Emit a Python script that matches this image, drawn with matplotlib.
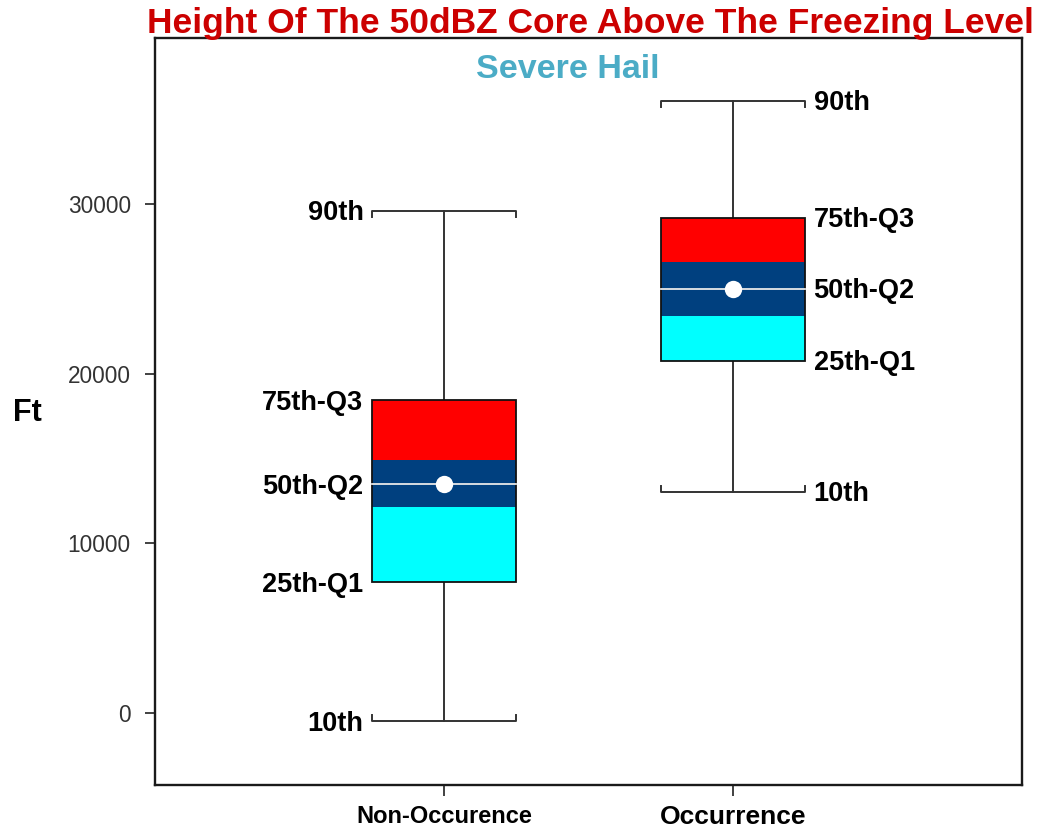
import matplotlib
matplotlib.use("Agg")
import matplotlib.pyplot as plt
from matplotlib import font_manager
import numpy as np

plt.rcParams['font.family'] = ['Liberation Sans', 'DejaVu Sans']

categories = ['Non-Occurence', 'Occurrence']
p10 = [-500, 13050]
q1 = [7700, 20750]
ci_low = [12150, 23420]
median = [13500, 25000]
ci_high = [14920, 26600]
q3 = [18450, 29200]
p90 = [29600, 36100]
label_side = ['left', 'right']
yticks = [0, 10000, 20000, 30000]

names = {f.name for f in font_manager.fontManager.ttflist}
narrow = 'Liberation Sans Narrow' if 'Liberation Sans Narrow' in names else None

fig = plt.figure(figsize=(10.42, 8.33), dpi=100)
ax = fig.add_axes([0.1488, 0.0576, 0.8320, 0.8968])

x = np.arange(1, len(categories) + 1)
w = 0.5
hook = 350

for i, xc in enumerate(x):
    ax.bar(xc, ci_low[i] - q1[i], bottom=q1[i], width=w, color='#00FFFF', linewidth=0, zorder=2)
    ax.bar(xc, ci_high[i] - ci_low[i], bottom=ci_low[i], width=w, color='#00407F', linewidth=0, zorder=2)
    ax.bar(xc, q3[i] - ci_high[i], bottom=ci_high[i], width=w, color='#FF0000', linewidth=0, zorder=2)
    ax.bar(xc, q3[i] - q1[i], bottom=q1[i], width=w, fill=False, edgecolor='#111111', linewidth=1.3, zorder=3)
    # whiskers
    ax.plot([xc, xc], [q3[i], p90[i]], color='#333333', lw=1.4, zorder=1)
    ax.plot([xc, xc], [q1[i], p10[i]], color='#333333', lw=1.4, zorder=1)
    # caps with hooks
    ax.plot([xc - w / 2, xc - w / 2, xc + w / 2, xc + w / 2],
            [p90[i] - hook, p90[i], p90[i], p90[i] - hook], color='#333333', lw=1.4, zorder=1)
    ax.plot([xc - w / 2, xc - w / 2, xc + w / 2, xc + w / 2],
            [p10[i] + hook, p10[i], p10[i], p10[i] + hook], color='#333333', lw=1.4, zorder=1)
    # median
    ax.plot([xc - w / 2, xc + w / 2], [median[i], median[i]], color='#E8E8E8', lw=1.3, zorder=4)
    ax.plot(xc, median[i], 'o', color='white', markersize=12.5, markeredgewidth=0, zorder=5)

    labels = [('90th', p90[i]), ('75th-Q3', q3[i]), ('50th-Q2', median[i]),
              ('25th-Q1', q1[i]), ('10th', p10[i])]
    for txt, val in labels:
        if label_side[i] == 'left':
            ax.annotate(txt, (xc - w / 2, val), xytext=(-6, -1.8), textcoords='offset points',
                        ha='right', va='center', fontsize=19.5, fontweight='bold', color='black')
        else:
            ax.annotate(txt, (xc + w / 2, val), xytext=(6, -1.5), textcoords='offset points',
                        ha='left', va='center', fontsize=19.5, fontweight='bold', color='black')

ax.set_xlim(0, 3)
ax.set_ylim(-4250, 39800)
ax.set_yticks(yticks)
ax.set_yticklabels([str(t) for t in yticks], fontsize=16.3, color='#333333')
ax.set_xticks(x)
ax.set_xticklabels(categories, fontsize=19, fontweight='bold', color='black')
if narrow:
    ax.get_xticklabels()[0].set_family([narrow, 'Liberation Sans'])
else:
    ax.get_xticklabels()[0].set_fontsize(17)
ax.tick_params(axis='y', length=7.5, width=1.3, color='#333333', pad=10)
ax.tick_params(axis='x', length=8, width=1.3, color='#333333', pad=6.5)
for s in ax.spines.values():
    s.set_linewidth(1.7)
    s.set_color('#1a1a1a')

ax.set_ylabel('Ft', rotation=0, fontsize=22, fontweight='bold', ha='center', va='center')
ax.yaxis.set_label_coords(-0.1476, 0.498)

fig.text(0.567, 0.972, 'Height Of The 50dBZ Core Above The Freezing Level',
         ha='center', va='center', fontsize=25.5, fontweight='bold', color='#CC0000')
fig.text(0.545, 0.916, 'Severe Hail', ha='center', va='center',
         fontsize=24.5, fontweight='bold', color='#4BACC6')

fig.savefig('out.png', dpi=100)
